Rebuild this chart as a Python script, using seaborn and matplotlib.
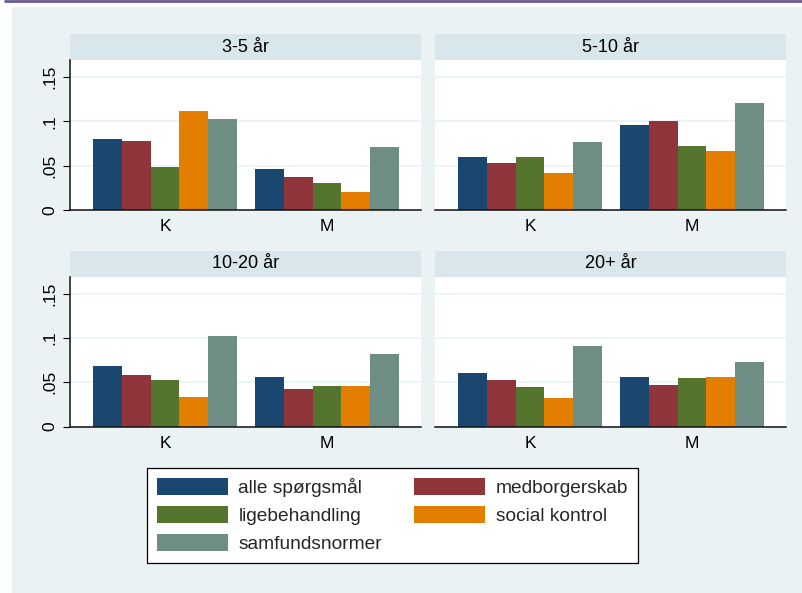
import matplotlib
matplotlib.use("Agg")
import matplotlib.pyplot as plt
from matplotlib.patches import Rectangle, Patch
from matplotlib.lines import Line2D
import seaborn as sns
import pandas as pd

# data
panels = ["3-5 år", "5-10 år", "10-20 år", "20+ år"]
groups = ["K", "M"]
series = ["alle spørgsmål", "medborgerskab", "ligebehandling", "social kontrol", "samfundsnormer"]
colors = ["#1a476f", "#90353b", "#55752f", "#e37e00", "#6e8e84"]

vals_3_5 = {"K": [0.080, 0.0775, 0.049, 0.111, 0.102],
            "M": [0.0465, 0.0375, 0.0305, 0.0205, 0.0715]}
vals_5_10 = {"K": [0.060, 0.0535, 0.0595, 0.042, 0.077],
             "M": [0.0955, 0.100, 0.072, 0.067, 0.121]}
vals_10_20 = {"K": [0.0685, 0.058, 0.0525, 0.0335, 0.102],
              "M": [0.056, 0.042, 0.046, 0.0455, 0.082]}
vals_20 = {"K": [0.061, 0.0525, 0.0445, 0.032, 0.091],
           "M": [0.0565, 0.047, 0.0545, 0.056, 0.073]}
all_vals = [vals_3_5, vals_5_10, vals_10_20, vals_20]

yticks = [0, 0.05, 0.1, 0.15]
ytick_labels = ["0", ".05", ".1", ".15"]

BG = "#eaf2f3"
STRIP = "#d9e6eb"

sns.set_theme(style="white")
plt.rcParams["font.family"] = ["Liberation Sans", "DejaVu Sans"]

W, H = 802, 593
fig = plt.figure(figsize=(W / 100, H / 100), dpi=100)
fig.patch.set_facecolor("white")
fig.patches.append(Rectangle((12 / W, 0), 1, 1 - 7 / H, transform=fig.transFigure,
                             facecolor=BG, edgecolor="none", zorder=-10))
fig.lines.append(Line2D([5 / W, 1], [1 - 1 / H, 1 - 1 / H], transform=fig.transFigure,
                        color="#6b5b95", lw=2))

# panel boxes in pixels: left, top(plot), right, bottom(zero line)
boxes = [(70, 60, 421, 210), (435, 60, 786, 210),
         (70, 277, 421, 426.5), (435, 277, 786, 426.5)]

for i, (name, vals, box) in enumerate(zip(panels, all_vals, boxes)):
    l, t, r, b = box
    ax = fig.add_axes([l / W, 1 - b / H, (r - l) / W, (b - t) / H])
    rows = []
    for g in groups:
        for s, v in zip(series, vals[g]):
            rows.append({"grp": g, "serie": s, "val": v})
    df = pd.DataFrame(rows)
    sns.barplot(data=df, x="grp", y="val", hue="serie", hue_order=series, order=groups,
                palette=colors, width=0.883, gap=0, saturation=1, linewidth=0,
                errorbar=None, legend=False, ax=ax)
    ax.set_facecolor("white")
    ax.set_xlim(-0.586, 1.58)
    ax.set_ylim(0, 0.169)
    ax.set_xlabel("")
    ax.set_ylabel("")
    ax.set_yticks(yticks)
    ax.grid(axis="y", color=BG, lw=1.2)
    ax.set_axisbelow(True)
    for sp in ["top", "right"]:
        ax.spines[sp].set_visible(False)
    ax.spines["bottom"].set_color("#111111")
    ax.spines["bottom"].set_linewidth(1.1)
    ax.tick_params(axis="x", length=0, pad=6.5, labelsize=12.5, colors="black")
    if i % 2 == 0:
        ax.spines["left"].set_color("#111111")
        ax.spines["left"].set_linewidth(1.1)
        ax.set_yticklabels(ytick_labels, rotation=90, va="center")
        ax.tick_params(axis="y", left=True, length=5, width=0.8, pad=4,
                       labelsize=12.5, colors="black")
    else:
        ax.spines["left"].set_visible(False)
        ax.set_yticklabels([])
        ax.tick_params(axis="y", left=False, length=0)
    # strip on top
    sh = 26 / (b - t)
    ax.add_patch(Rectangle((0, 1), 1, sh, transform=ax.transAxes, facecolor=STRIP,
                           edgecolor="none", clip_on=False))
    ax.text(0.5, 1 + sh / 2, name, transform=ax.transAxes, ha="center", va="center",
            fontsize=13, color="black")

# legend filled row by row: matplotlib fills columns, so reorder
order = [0, 2, 4, 1, 3]
handles = [Patch(facecolor=colors[k], edgecolor="none") for k in order]
labels = [series[k] for k in order]
leg = fig.legend(handles, labels, loc="upper left", ncol=2,
                 bbox_to_anchor=(147 / W, 1 - 468 / H), borderaxespad=0,
                 fontsize=13.8, handlelength=3.7, handleheight=1.04,
                 handletextpad=0.57, columnspacing=1.65, labelspacing=0.45,
                 borderpad=0.5, frameon=True, fancybox=False, edgecolor="black",
                 framealpha=1)
leg.get_frame().set_linewidth(0.9)

fig.savefig("out.png", dpi=100, facecolor=fig.get_facecolor())
